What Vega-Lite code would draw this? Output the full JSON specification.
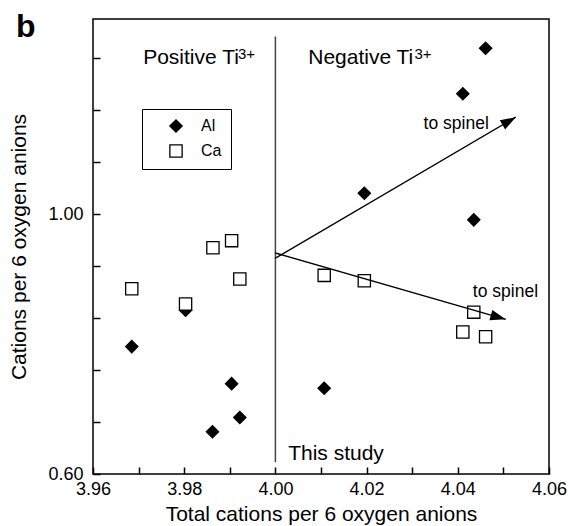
{
  "$schema": "https://vega.github.io/schema/vega-lite/v6.json",
  "width": 456,
  "height": 455,
  "autosize": {"type": "none"},
  "padding": {"left": 93, "top": 19, "right": 21, "bottom": 52},
  "background": "white",
  "config": {
    "view": {"stroke": "black", "strokeWidth": 1.5},
    "legend": {"labelFont": "Liberation Sans"}
  },
  "datasets": {
    "points": [
      {"series": "Al", "x": 3.9685, "y": 0.796},
      {"series": "Al", "x": 3.9803, "y": 0.852},
      {"series": "Al", "x": 3.9862, "y": 0.665},
      {"series": "Al", "x": 3.9904, "y": 0.739},
      {"series": "Al", "x": 3.9922, "y": 0.687},
      {"series": "Al", "x": 4.0107, "y": 0.732},
      {"series": "Al", "x": 4.0195, "y": 1.032},
      {"series": "Al", "x": 4.0435, "y": 0.991},
      {"series": "Al", "x": 4.0411, "y": 1.185},
      {"series": "Al", "x": 4.0461, "y": 1.255},
      {"series": "Ca", "x": 3.9685, "y": 0.885},
      {"series": "Ca", "x": 3.9803, "y": 0.8615},
      {"series": "Ca", "x": 3.9863, "y": 0.948},
      {"series": "Ca", "x": 3.9904, "y": 0.959},
      {"series": "Ca", "x": 3.9922, "y": 0.900},
      {"series": "Ca", "x": 4.0107, "y": 0.9056},
      {"series": "Ca", "x": 4.0195, "y": 0.8974},
      {"series": "Ca", "x": 4.0435, "y": 0.849},
      {"series": "Ca", "x": 4.0411, "y": 0.8185},
      {"series": "Ca", "x": 4.0461, "y": 0.8112}
    ],
    "divider": [{"x": 4.0, "y": 0.618, "y2": 1.273}],
    "arrows": [
      {"arrow": "upper", "x": 4.0, "y": 0.932, "x2": 4.0527, "y2": 1.149},
      {"arrow": "lower", "x": 4.0, "y": 0.940, "x2": 4.0505, "y2": 0.838}
    ],
    "bigtext": [
      {"label": "Positive Ti", "x": 3.971, "y": 1.2308},
      {"label": "Negative Ti", "x": 4.0072, "y": 1.2308},
      {"label": "This study", "x": 4.0028, "y": 0.622}
    ],
    "sup": [
      {"label": "3+", "x": 3.9918, "y": 1.2385},
      {"label": "3+", "x": 4.0305, "y": 1.2385}
    ],
    "spinel": [
      {"label": "to spinel", "x": 4.0325, "y": 1.1308},
      {"label": "to spinel", "x": 4.0433, "y": 0.8723}
    ],
    "panel": [{"label": "b", "x": 3.9431, "y": 1.2723}]
  },
  "layer": [
    {
      "data": {"name": "points"},
      "mark": {"type": "point", "filled": true, "strokeWidth": 1.3, "size": 150, "opacity": 1},
      "encoding": {
        "x": {"field": "x", "type": "quantitative", "scale": {"domain": [3.96, 4.06], "nice": false, "zero": false},
              "axis": {"orient": "bottom", "values": [3.96, 3.965, 3.97, 3.975, 3.98, 3.985, 3.99, 3.995, 4.0, 4.005, 4.01, 4.015, 4.02, 4.025, 4.03, 4.035, 4.04, 4.045, 4.05, 4.055, 4.06], "labelExpr": "abs(datum.value*50 - round(datum.value*50)) < 0.001 ? format(datum.value, '.2f') : ''", "domain": false, "grid": false, "ticks": true, "tickColor": "black", "tickWidth": 1.5, "tickSize": -7, "labelPadding": 13, "labelFont": "Liberation Sans", "labelColor": "black", "labelFontSize": 18, "labelFlush": false, "labelOverlap": false, "title": "Total cations per 6 oxygen anions", "titleFont": "Liberation Sans", "titleColor": "black", "titleFontSize": 21, "titleFontWeight": "normal", "titlePadding": 5}},
        "y": {"field": "y", "type": "quantitative", "scale": {"domain": [0.6, 1.3], "nice": false, "zero": false},
              "axis": {"orient": "left", "values": [0.6, 0.62, 0.64, 0.66, 0.68, 0.7, 0.72, 0.74, 0.76, 0.78, 0.8, 0.82, 0.84, 0.86, 0.88, 0.9, 0.92, 0.94, 0.96, 0.98, 1.0, 1.02, 1.04, 1.06, 1.08, 1.1, 1.12, 1.14, 1.16, 1.18, 1.2, 1.22, 1.24, 1.26, 1.28, 1.3], "labelExpr": "abs(datum.value*10 - round(datum.value*10)) < 0.001 ? format(datum.value, '.2f') : ''", "domain": false, "grid": false, "ticks": true, "tickColor": "black", "tickWidth": 1.5, "tickSize": -7, "labelPadding": 17, "labelFont": "Liberation Sans", "labelColor": "black", "labelFontSize": 18, "labelFlush": false, "labelOverlap": false, "title": "Cations per 6 oxygen anions", "titleFont": "Liberation Sans", "titleColor": "black", "titleFontSize": 21, "titleFontWeight": "normal", "titlePadding": 18}},
        "shape": {"field": "series", "type": "nominal", "scale": {"domain": ["Al", "Ca"], "range": ["diamond", "square"]},
                  "legend": {"title": null, "orient": "none", "legendX": 49, "legendY": 90, "strokeColor": "black", "padding": 9, "symbolOffset": 17, "labelOffset": 17, "labelFontSize": 16, "labelColor": "black", "symbolSize": 150, "symbolStrokeWidth": 1.3, "rowPadding": 7, "fillColor": "white"}},
        "fill": {"field": "series", "type": "nominal", "scale": {"domain": ["Al", "Ca"], "range": ["black", "white"]},
                 "legend": {"title": null, "orient": "none", "legendX": 49, "legendY": 90, "strokeColor": "black", "padding": 9, "symbolOffset": 17, "labelOffset": 17, "labelFontSize": 16, "labelColor": "black", "symbolSize": 150, "symbolStrokeWidth": 1.3, "rowPadding": 7, "fillColor": "white"}},
        "stroke": {"field": "series", "type": "nominal", "scale": {"domain": ["Al", "Ca"], "range": ["black", "black"]},
                   "legend": {"title": null, "orient": "none", "legendX": 49, "legendY": 90, "strokeColor": "black", "padding": 9, "symbolOffset": 17, "labelOffset": 17, "labelFontSize": 16, "labelColor": "black", "symbolSize": 150, "symbolStrokeWidth": 1.3, "rowPadding": 7, "fillColor": "white"}}
      }
    },
    {
      "data": {"name": "divider"},
      "mark": {"type": "rule", "color": "#444444", "strokeWidth": 1.5},
      "encoding": {
        "x": {"field": "x", "type": "quantitative"},
        "y": {"field": "y", "type": "quantitative"},
        "y2": {"field": "y2"}
      }
    },
    {
      "data": {"name": "arrows"},
      "mark": {"type": "rule", "color": "black", "strokeWidth": 1.4},
      "encoding": {
        "x": {"field": "x", "type": "quantitative"},
        "y": {"field": "y", "type": "quantitative"},
        "x2": {"field": "x2"},
        "y2": {"field": "y2"}
      }
    },
    {
      "data": {"name": "arrows"},
      "transform": [{"filter": "datum.arrow === 'upper'"}],
      "mark": {"type": "point", "filled": true, "color": "black", "opacity": 1, "size": 560, "angle": 59.6, "shape": "M0,0L-0.45,1.3L0.45,1.3Z"},
      "encoding": {
        "x": {"field": "x2", "type": "quantitative"},
        "y": {"field": "y2", "type": "quantitative"}
      }
    },
    {
      "data": {"name": "arrows"},
      "transform": [{"filter": "datum.arrow === 'lower'"}],
      "mark": {"type": "point", "filled": true, "color": "black", "opacity": 1, "size": 560, "angle": 106.1, "shape": "M0,0L-0.45,1.3L0.45,1.3Z"},
      "encoding": {
        "x": {"field": "x2", "type": "quantitative"},
        "y": {"field": "y2", "type": "quantitative"}
      }
    },
    {
      "data": {"name": "bigtext"},
      "mark": {"type": "text", "align": "left", "baseline": "alphabetic", "fontSize": 21, "font": "Liberation Sans", "color": "black"},
      "encoding": {
        "x": {"field": "x", "type": "quantitative"},
        "y": {"field": "y", "type": "quantitative"},
        "text": {"field": "label"}
      }
    },
    {
      "data": {"name": "sup"},
      "mark": {"type": "text", "align": "left", "baseline": "alphabetic", "fontSize": 15, "font": "Liberation Sans", "color": "black"},
      "encoding": {
        "x": {"field": "x", "type": "quantitative"},
        "y": {"field": "y", "type": "quantitative"},
        "text": {"field": "label"}
      }
    },
    {
      "data": {"name": "spinel"},
      "mark": {"type": "text", "align": "left", "baseline": "alphabetic", "fontSize": 17.5, "font": "Liberation Sans", "color": "black"},
      "encoding": {
        "x": {"field": "x", "type": "quantitative"},
        "y": {"field": "y", "type": "quantitative"},
        "text": {"field": "label"}
      }
    },
    {
      "data": {"name": "panel"},
      "mark": {"type": "text", "align": "left", "baseline": "alphabetic", "fontSize": 32, "fontWeight": "bold", "font": "Liberation Sans", "color": "black"},
      "encoding": {
        "x": {"field": "x", "type": "quantitative"},
        "y": {"field": "y", "type": "quantitative"},
        "text": {"field": "label"}
      }
    }
  ]
}
